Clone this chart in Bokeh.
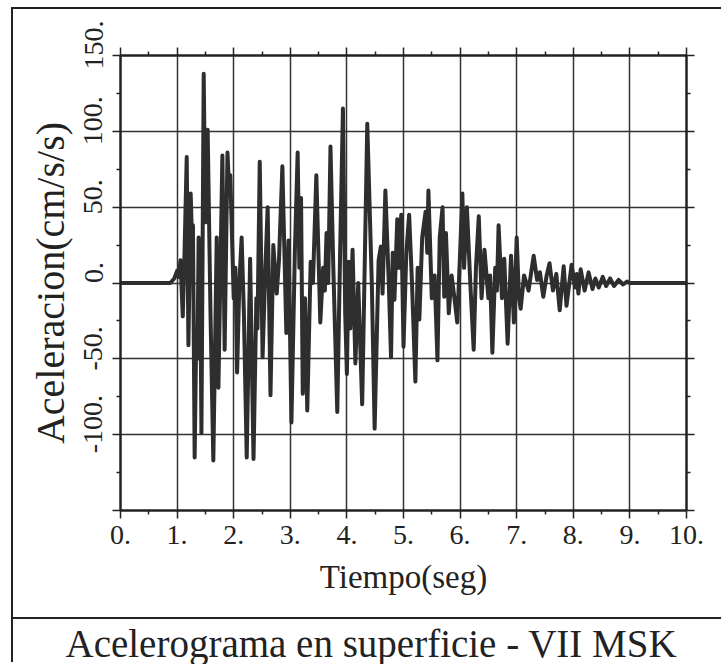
from bokeh.plotting import figure
from bokeh.layouts import column
from bokeh.models import LinearAxis, FixedTicker, Range1d
from bokeh.embed import file_html
from bokeh.resources import INLINE

# ---- data ----
tiempo = [0.00, 0.88, 0.95, 1.00, 1.03, 1.06, 1.10, 1.13, 1.17, 1.20, 1.24, 1.27, 1.28, 1.31, 1.34,
          1.36, 1.38, 1.40, 1.41, 1.43, 1.47, 1.50, 1.54, 1.59, 1.64, 1.70, 1.73, 1.80, 1.84, 1.89,
          1.92, 1.94, 2.00, 2.03, 2.06, 2.10, 2.14, 2.18, 2.23, 2.29, 2.35, 2.40, 2.42, 2.46, 2.51,
          2.56, 2.60, 2.65, 2.70, 2.76, 2.80, 2.86, 2.93, 2.97, 3.02, 3.08, 3.13, 3.16, 3.19, 3.22,
          3.26, 3.30, 3.36, 3.40, 3.46, 3.53, 3.58, 3.61, 3.64, 3.67, 3.71, 3.76, 3.83, 3.88, 3.93,
          3.97, 4.00, 4.03, 4.06, 4.10, 4.15, 4.20, 4.27, 4.36, 4.44, 4.49, 4.56, 4.60, 4.63, 4.68,
          4.74, 4.78, 4.81, 4.84, 4.89, 4.92, 4.96, 5.00, 5.05, 5.10, 5.15, 5.21, 5.25, 5.28, 5.33,
          5.39, 5.42, 5.44, 5.50, 5.55, 5.60, 5.64, 5.69, 5.72, 5.75, 5.80, 5.85, 5.90, 5.95, 6.00,
          6.04, 6.07, 6.12, 6.18, 6.24, 6.28, 6.33, 6.38, 6.43, 6.50, 6.53, 6.57, 6.62, 6.65, 6.68,
          6.74, 6.78, 6.84, 6.90, 6.95, 7.00, 7.04, 7.07, 7.13, 7.21, 7.26, 7.30, 7.36, 7.41, 7.47,
          7.53, 7.58, 7.64, 7.70, 7.76, 7.83, 7.88, 7.97, 8.03, 8.06, 8.09, 8.13, 8.20, 8.27, 8.34,
          8.39, 8.45, 8.52, 8.58, 8.65, 8.72, 8.80, 8.88, 8.95, 9.00, 10.00]
aceleracion = [0, 0, 3, 8, 4, 15, -22, 18, 83, -41, 59, 20, 38, -115, -30,
               -50, 30, -20, 5, -99, 138, 40, 101, -20, -117, 30, -69, 84, -44, 86,
               60, 71, -10, 10, -59, 0, 30, -20, -115, 16, -116, -10, -30, 80, -49,
               10, 50, -74, 25, -7, 15, 77, -33, 28, -92, 20, 86, 10, 56, -73,
               -10, -84, 14, 0, 71, -26, 10, -5, 33, 0, 90, 10, -85, 20, 115,
               -20, -60, 14, -30, 22, -53, 0, -80, 105, 0, -96, 15, 24, -7, 61,
               0, -49, 20, -11, 42, 10, 45, -42, 20, 45, 0, -65, 10, -24, 30,
               47, 20, 61, -10, 5, -51, 30, 50, -9, 33, -20, 5, -10, -26, 20,
               59, 10, 50, 0, -44, 10, 44, -10, 22, -10, 5, -46, 10, -5, 38,
               -10, 16, -40, 18, -26, 30, -10, -17, 5, -5, 8, 18, 2, 7, -9,
               5, 13, -5, 6, -18, 11, -15, 12, -3, 6, -7, 9, -5, 7, -4,
               3, -3, 4, -2, 3, -2, 2, -1, 1, 0, 0]

x_ticks = [0, 1, 2, 3, 4, 5, 6, 7, 8, 9, 10]
x_tick_labels = {0: "0.", 1: "1.", 2: "2.", 3: "3.", 4: "4.", 5: "5.", 6: "6.",
                 7: "7.", 8: "8.", 9: "9.", 10: "10."}
y_ticks = [-150, -100, -50, 0, 50, 100, 150]
y_tick_labels = {-150: "", -100: "-100.", -50: "-50.", 0: "0.", 50: "50.", 100: "100.", 150: "150."}
x_minor = [v + 0.5 for v in x_ticks[:-1]]
y_minor = [v + 25 for v in y_ticks[:-1]]

x_label = "Tiempo(seg)"
y_label = "Aceleracion(cm/s/s)"
title_text = "Acelerograma en superficie - VII MSK"

FONT = "Liberation Serif"
INK = "#222222"
LEAD = "\u00a0\u00a0\u00a0"  # the reference draws its y labels a little above their ticks

p = figure(width=708, height=608, output_backend="svg", toolbar_location=None,
           x_range=Range1d(0, 10), y_range=Range1d(-150, 150),
           min_border_left=107, min_border_right=35, min_border_top=46, min_border_bottom=107)
p.background_fill_color = "white"
p.border_fill_color = "white"
p.outline_line_color = INK
p.outline_line_width = 2


def style_axis(ax):
    ax.axis_line_color = INK
    ax.axis_line_width = 2
    ax.major_tick_line_color = INK
    ax.major_tick_line_width = 1.5
    ax.minor_tick_line_color = INK
    ax.minor_tick_line_width = 1.5
    ax.major_tick_in = 0
    ax.major_tick_out = 8
    ax.minor_tick_in = 0
    ax.minor_tick_out = 4
    ax.major_label_text_font = FONT
    ax.major_label_text_font_size = "28px"
    ax.major_label_text_color = INK
    ax.axis_label_text_font = FONT
    ax.axis_label_text_font_style = "normal"
    ax.axis_label_text_color = INK


xa = p.xaxis[0]
style_axis(xa)
xa.ticker = FixedTicker(ticks=x_ticks, minor_ticks=x_minor)
xa.major_label_overrides = x_tick_labels
xa.major_label_standoff = 7
xa.axis_label = x_label
xa.axis_label_text_font_size = "33px"
xa.axis_label_standoff = 12

ya = p.yaxis[0]
style_axis(ya)
ya.ticker = FixedTicker(ticks=y_ticks, minor_ticks=y_minor)
ya.major_label_overrides = {k: (LEAD + v if v else v) for k, v in y_tick_labels.items()}
ya.major_label_orientation = "parallel"
ya.major_label_standoff = 4
ya.axis_label = y_label
ya.axis_label_text_font_size = "40px"
ya.axis_label_standoff = 2

top = LinearAxis(ticker=FixedTicker(ticks=x_ticks, minor_ticks=x_minor),
                 major_label_overrides={v: "" for v in x_ticks})
style_axis(top)
p.add_layout(top, "above")

right = LinearAxis(ticker=FixedTicker(ticks=y_ticks, minor_ticks=y_minor),
                   major_label_overrides={v: "" for v in y_ticks})
style_axis(right)
p.add_layout(right, "right")

p.xgrid.ticker = FixedTicker(ticks=x_ticks)
p.ygrid.ticker = FixedTicker(ticks=y_ticks)
for g in (p.xgrid[0], p.ygrid[0]):
    g.grid_line_color = "#333333"
    g.grid_line_width = 1.5
    g.grid_line_alpha = 1.0

p.line(tiempo, aceleracion, line_color="#2e2e2e", line_width=4, line_join="round")

# title strip below the chart
tfig = figure(width=708, height=45, output_backend="svg", toolbar_location=None,
              x_axis_location=None, y_axis_location=None,
              min_border_left=0, min_border_right=0, min_border_top=4, min_border_bottom=0)
tfig.outline_line_color = None
tfig.xgrid.visible = False
tfig.ygrid.visible = False
tfig.background_fill_color = "white"
tfig.border_fill_color = "white"
tfig.title.text = title_text
tfig.title.align = "left"
tfig.title.offset = -55
tfig.title.standoff = 0
tfig.title.text_font = FONT
tfig.title.text_font_size = "39px"
tfig.title.text_font_style = "normal"
tfig.title.text_color = INK
tfig.styles = {"border-top": "2px solid #222222"}

layout = column(p, tfig, spacing=0,
                styles={"margin-left": "11px", "margin-top": "7px",
                        "border-left": "2px solid #222222",
                        "border-top": "2px solid #222222"})

open("out.html", "w").write(file_html(layout, INLINE))
